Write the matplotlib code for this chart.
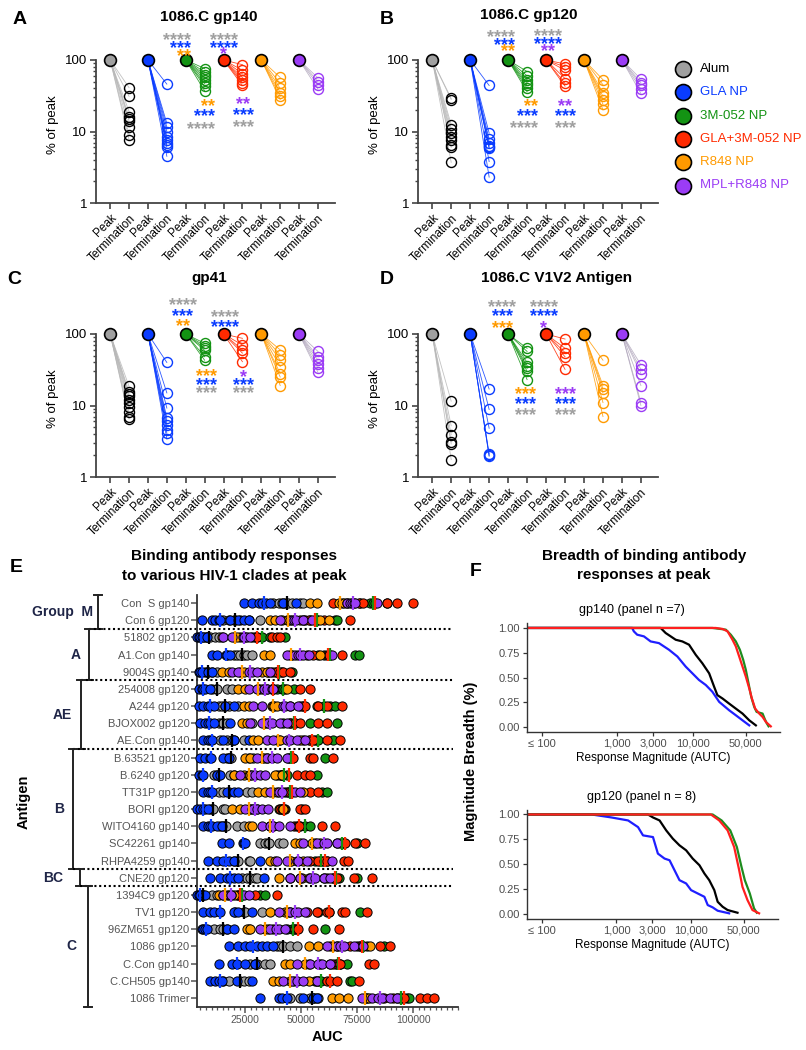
import numpy as np
import matplotlib.pyplot as plt
import matplotlib.transforms as mtransforms
from matplotlib.ticker import FixedLocator, MultipleLocator, NullLocator, LogLocator, NullFormatter

plt.rcParams['font.family'] = ['Liberation Sans', 'DejaVu Sans']

W, H = 806, 1050

# ---------------- data ----------------
groups = ['Alum', 'GLA NP', '3M-052 NP', 'GLA+3M-052 NP', 'R848 NP', 'MPL+R848 NP']
group_colors = ['#a0a0a0', '#0a3cff', '#139313', '#ff2a00', '#ff9a00', '#9b3cf5']
line_colors = ['#b8b8b8', '#0a3cff', '#139313', '#ff2a00', '#ff9a00', '#b4aabf']
term_edges = ['black', '#0a3cff', '#139313', '#ff2a00', '#ff9a00', '#9b3cf5']
xcats = ['Peak', 'Termination'] * 6

# % of peak at termination, per adjuvant group (Alum, GLA, 3M, GLA+3M, R848, MPL+R848)
term_A = [[41, 31, 19, 16, 15, 14, 11.5, 9, 7.7],
          [46, 13, 11.5, 10, 8.5, 7.5, 7, 6.5, 6, 4.5],
          [76, 68, 62, 57, 52, 47, 43, 37],
          [86, 72, 64, 57, 52, 48, 44],
          [57, 47, 40, 35, 31, 28],
          [56, 50, 45, 39]]
term_B = [[29, 28, 12.5, 11, 9.5, 8.5, 7.5, 6.5, 6, 3.7],
          [44, 9.5, 7.8, 7, 6.3, 6, 5.8, 3.8, 2.3],
          [69, 60, 53, 48, 44, 40, 36],
          [88, 80, 72, 55, 47, 43],
          [53, 45, 35, 31, 28, 24, 20],
          [54, 48, 44, 39, 34]]
term_C = [[18.5, 15.5, 14.5, 13.5, 12, 11, 9.5, 8, 7, 6.5],
          [40, 15, 9.2, 6.7, 6, 5.3, 4.6, 4.1, 3.4],
          [74, 68, 63, 59, 48, 43],
          [87, 70, 60, 54, 41],
          [60, 51, 43, 35, 28, 25, 19],
          [57, 48, 43, 38, 33, 29]]
term_D = [[11.5, 5.2, 3.9, 3.1, 2.9, 1.75],
          [17, 8.8, 4.8, 2.1, 2.0, 1.95],
          [63, 57, 40, 36, 33, 30, 23],
          [85, 63, 55, 48, 32],
          [43, 19, 17, 15, 11, 7],
          [37, 32, 28, 19, 11, 10]]

# significance stars: (x category, alignment, [(stars, colour index, y)])
stars_A = [(4.29, 'right', [('****', 0, 229), ('***', 1, 175), ('**', 4, 135)]),
           (6.0, 'center', [('****', 0, 229), ('****', 1, 175), ('*', 5, 142)]),
           (5.56, 'right', [('**', 4, 26.7), ('***', 1, 19.4), ('****', 0, 13)]),
           (7.04, 'center', [('**', 5, 28.5), ('***', 1, 20), ('***', 0, 13.7)])]
stars_B = [(4.34, 'right', [('****', 0, 249), ('***', 1, 195), ('**', 4, 157)]),
           (6.08, 'center', [('****', 0, 257), ('****', 1, 201), ('**', 5, 157)]),
           (5.56, 'right', [('**', 4, 26.7), ('***', 1, 19.4), ('****', 0, 13.3)]),
           (7.0, 'center', [('**', 5, 26.7), ('***', 1, 19.4), ('***', 0, 13.3)])]
stars_C = [(3.84, 'center', [('****', 0, 303), ('***', 1, 215), ('**', 4, 153)]),
           (6.08, 'center', [('****', 0, 204), ('****', 1, 148)]),
           (5.1, 'center', [('***', 4, 30.6), ('***', 1, 23), ('***', 0, 17.6)]),
           (7.04, 'center', [('*', 5, 29.6), ('***', 1, 23), ('***', 0, 17.6)])]
stars_D = [(3.7, 'center', [('****', 0, 287), ('***', 1, 209), ('***', 4, 143)]),
           (5.87, 'center', [('****', 0, 287), ('****', 1, 209), ('*', 5, 143)]),
           (4.92, 'center', [('***', 4, 17), ('***', 1, 12.5), ('***', 0, 8.8)]),
           (7.04, 'center', [('***', 5, 17), ('***', 1, 12.5), ('***', 0, 8.8)])]

# panel E
antigens = ['Con  S gp140', 'Con 6 gp120', '51802 gp120', 'A1.Con gp140', '9004S gp140',
            '254008 gp120', 'A244 gp120', 'BJOX002 gp120', 'AE.Con gp140', 'B.63521 gp120',
            'B.6240 gp120', 'TT31P gp120', 'BORI gp120', 'WITO4160 gp140', 'SC42261 gp140',
            'RHPA4259 gp140', 'CNE20 gp120', '1394C9 gp120', 'TV1 gp120', '96ZM651 gp120',
            '1086 gp120', 'C.Con gp140', 'C.CH505 gp140', '1086 Trimer']
clades = ['Group  M', 'A', 'AE', 'B', 'BC', 'C']
clade_rows = [(0, 1), (2, 4), (5, 8), (9, 15), (16, 16), (17, 23)]

# AUC in thousands, one list per antigen row
auc_alum = [[37.6, 39.9, 41.4, 42.9, 44.3, 45.8, 49.6, 51.0], [15.3, 17.6, 19.8, 20.5, 22.8, 26.5, 31.7],
            [7.1, 7.9, 8.6, 9.4, 11.6, 13.1], [19.8, 21.3, 22.8, 24.3, 25.7, 28.0],
            [7.1, 7.9, 8.6, 10.1, 12.4], [10.1, 12.0, 12.6, 16.8, 19.0],
            [13.1, 14.6, 16.1, 17.6, 22.0], [13.1, 14.6, 15.3, 16.8, 28.0],
            [13.8, 16.8, 19.0, 19.8, 24.3], [16.8, 18.0, 18.6, 26.5, 28.7],
            [10.9, 12.4, 13.1, 18.3, 19.8], [13.1, 15.3, 18.0, 25.7, 28.0],
            [9.4, 10.1, 10.6, 15.3, 16.1], [13.8, 15.3, 16.1, 16.4, 21.3, 24.3],
            [31.7, 33.9, 35.4, 35.8, 39.9, 42.1], [19.8, 21.3, 22.0, 26.5, 27.2],
            [23.5, 25.7, 27.2, 29.5, 30.2], [5.2, 5.7, 6.4, 10.1, 12.4],
            [20.5, 24.3, 25.0, 32.4], [10.9, 13.8, 15.3, 16.8, 26.5],
            [39.1, 40.6, 42.1, 45.1, 48.1], [27.2, 29.5, 30.2, 33.9, 36.2],
            [15.3, 17.6, 22.8, 24.3, 26.5], [45.1, 49.6, 54.0, 55.5, 56.2, 57.7]]
auc_gla = [[24.3, 28.0, 31.0, 32.4, 34.4, 36.2, 42.1, 47.8], [5.7, 10.1, 11.6, 13.1, 13.8, 18.3, 22.0, 24.3, 26.5],
           [3.6, 4.2, 4.9, 5.7, 6.4, 7.9], [10.1, 12.4, 16.4, 16.8, 18.3],
           [4.2, 5.0, 5.7, 8.6, 10.1], [4.2, 5.7, 6.4, 7.1, 9.4],
           [4.2, 6.4, 8.6, 9.4, 10.9, 16.1, 19.8], [4.9, 7.1, 8.6, 9.4, 10.9, 18.3],
           [6.4, 8.6, 9.4, 10.1, 15.3, 19.8, 26.5], [4.9, 7.1, 9.4, 9.8, 15.3, 17.6],
           [4.2, 5.7, 6.4, 12.4, 13.8], [6.4, 8.6, 9.4, 10.1, 16.8, 19.8, 22.0],
           [3.7, 4.9, 6.4, 7.1, 8.6], [6.4, 8.6, 9.4, 10.1, 12.4, 14.6],
           [14.6, 17.6, 24.0, 24.6, 25.0], [8.6, 12.4, 15.3, 17.6, 19.8, 31.7],
           [9.4, 13.8, 16.8, 18.3, 19.8, 22.0, 33.2], [3.6, 4.2, 4.9, 6.4, 7.1],
           [6.4, 9.4, 10.9, 13.8, 19.8, 22.0, 28.0], [5.7, 6.4, 7.1, 7.9, 16.8, 19.8],
           [17.6, 22.0, 25.0, 27.2, 30.2, 32.4, 34.7, 37.6], [13.1, 19.0, 21.3, 25.0, 29.5],
           [9.4, 11.6, 13.1, 14.6, 21.3, 28.0], [31.7, 39.9, 41.4, 43.6, 51.0, 55.5, 57.0]]
auc_3m = [[76.3, 80.8, 82.0, 83.0, 88.2], [51.0, 54.0, 56.7, 57.0, 65.2, 65.9],
          [28.0, 30.2, 32.4, 36.2, 42.9], [57.7, 60.0, 63.0, 74.1, 75.6],
          [36.9, 39.1, 41.4, 45.8], [39.1, 41.4, 42.1, 42.9, 46.6],
          [51.0, 57.0, 60.0, 63.0, 65.2], [42.1, 45.1, 46.6, 54.0, 65.9],
          [56.2, 57.0, 57.7, 64.4], [44.3, 45.1, 45.8, 60.7],
          [39.1, 41.4, 43.6, 57.0], [42.9, 43.9, 45.1, 59.2, 61.5],
          [39.9, 41.4, 42.9, 50.3], [49.6, 51.8, 54.0],
          [65.9, 68.2, 68.5, 74.9], [56.2, 58.5, 59.5, 61.5],
          [60.0, 64.1, 66.7, 74.9], [22.0, 23.0, 23.5, 31.7, 33.9],
          [57.7, 62.2, 76.3], [43.6, 45.8, 46.6, 60.7],
          [74.9, 76.3, 79.3, 86.8], [62.9, 65.6, 67.4, 70.4],
          [56.2, 58.0, 58.8, 71.9, 72.6], [92.7, 94.0, 94.5, 97.2, 98.0]]
auc_gla3m = [[64.4, 75.6, 77.8, 88.2, 92.7, 100.1], [49.6, 51.8, 53.3, 56.2, 57.0, 60.0, 71.9],
             [22.8, 29.5, 30.0, 30.4, 36.9, 39.1, 40.6], [52.5, 55.5, 61.5, 62.2, 62.6, 68.2],
             [35.4, 38.4, 39.1, 40.6, 42.1, 45.1], [34.7, 36.9, 37.4, 37.6, 49.6, 54.0],
             [45.1, 49.6, 51.0, 51.8, 57.7, 61.5, 68.2], [45.1, 46.6, 46.9, 47.3, 49.6, 57.7, 61.5],
             [51.0, 53.3, 54.0, 55.5, 61.5, 67.4], [45.1, 45.8, 46.0, 46.4, 54.0, 55.5, 64.4],
             [40.6, 40.9, 41.4, 48.1, 51.8, 54.0], [44.3, 45.1, 45.8, 54.0, 57.7],
             [40.6, 41.4, 42.1, 42.3, 49.6, 51.8], [46.6, 48.1, 48.8, 49.2, 59.2, 65.2],
             [67.4, 68.9, 69.4, 74.1, 78.6], [54.0, 57.7, 60.0, 61.5, 68.9, 71.1],
             [55.5, 61.5, 64.4, 65.9, 73.4, 81.5], [21.3, 22.5, 22.8, 29.5, 39.1],
             [52.5, 57.0, 61.5, 62.2, 68.2, 69.6, 79.3], [47.3, 48.1, 48.4, 55.5, 66.7],
             [71.9, 76.3, 77.1, 85.3, 89.7], [64.4, 66.0, 66.7, 67.2, 80.1, 82.3],
             [57.0, 61.5, 62.9, 65.9, 75.6], [86.8, 91.2, 95.0, 95.7, 103.1, 106.1, 109.1]]
auc_r848 = [[54.0, 57.0, 66.7, 68.2, 68.9, 70.4], [36.2, 38.4, 41.4, 43.6, 44.3, 45.1, 58.5, 62.2],
            [14.6, 19.8, 21.3, 25.0], [33.2, 36.2, 45.1, 45.5, 45.8, 58.5],
            [14.6, 17.6, 22.8, 24.3, 32.4, 34.7], [22.0, 25.0, 30.8, 31.0, 32.4, 43.6],
            [24.3, 26.5, 36.9, 37.6, 38.0, 39.1], [23.5, 25.7, 33.2, 33.8, 35.4],
            [28.7, 30.9, 39.1, 40.0, 40.6, 49.6], [25.0, 27.2, 32.4, 33.2, 34.7],
            [19.8, 24.3, 26.5, 27.2, 38.4, 41.4], [30.9, 33.9, 37.6, 39.1, 51.0],
            [19.0, 22.8, 26.5, 27.2, 30.2, 42.1], [26.5, 28.0, 35.9, 36.2, 37.6],
            [47.3, 49.6, 54.8, 56.2, 58.5], [36.2, 38.4, 45.1, 45.4, 51.0],
            [39.9, 45.1, 49.6, 50.3, 53.3], [13.1, 15.3, 16.8, 19.8],
            [36.2, 42.9, 44.3, 45.1], [25.7, 27.2, 33.9, 35.4, 37.6],
            [53.3, 57.7, 62.9, 64.4, 65.9, 77.8, 80.8], [42.9, 45.1, 51.8, 53.3, 58.5],
            [37.6, 39.9, 45.1, 46.6, 53.3], [63.7, 66.7, 71.1, 78.6, 79.0, 79.3, 80.1]]
auc_mpl = [[70.4, 71.9, 72.6, 73.4, 74.1, 83.8], [40.6, 45.8, 46.9, 47.8, 51.0, 54.8],
           [15.3, 19.0, 24.0, 24.6, 25.7, 27.2], [43.6, 47.3, 48.8, 49.6, 51.0, 53.3, 63.7],
           [19.0, 22.0, 26.5, 28.0, 30.2, 36.2], [26.5, 30.2, 33.2, 34.7, 36.9, 37.6],
           [28.7, 32.4, 42.1, 42.9, 45.1, 48.8], [27.2, 32.4, 35.4, 36.9, 40.6, 43.6],
           [34.7, 37.6, 43.6, 45.1, 48.1, 51.8], [30.2, 34.7, 36.9, 39.1, 43.6],
           [22.8, 28.0, 29.5, 31.7, 33.9], [36.2, 39.9, 41.4, 47.3, 49.6],
           [25.0, 28.0, 28.7, 30.2, 32.4, 35.4], [32.4, 36.2, 37.6, 39.9, 45.1],
           [51.0, 57.0, 60.0, 61.5, 65.9], [39.1, 43.6, 48.1, 48.8, 52.5, 63.7],
           [45.1, 49.6, 54.0, 56.2, 60.0, 62.9], [15.3, 17.6, 18.6, 18.8, 24.3, 26.5],
           [39.9, 45.1, 47.3, 48.8, 51.8], [31.7, 36.2, 38.8, 39.9, 42.9],
           [61.5, 65.9, 67.4, 68.9, 73.4, 77.8], [48.1, 54.0, 57.7, 59.2, 62.9],
           [42.1, 45.8, 48.1, 51.0, 57.0], [77.1, 81.5, 84.5, 86.0, 89.7, 92.7]]
auc_groups = [auc_alum, auc_gla, auc_3m, auc_gla3m, auc_r848, auc_mpl]
median_colors = ['black', '#0a3cff', '#139313', '#ff2a00', '#ff9a00', '#9b3cf5']
e_draw_order = [0, 1, 4, 5, 2, 3]

# panel F: breadth curves (AUTC, fraction of antigens)
f_colors = ['#1f1fff', 'black', '#1e8c1e', '#ff1f1f']
gp140_x = [[1580, 1660, 1840, 2260, 2770, 3570, 4850, 6260, 8070, 9900, 12100, 14900, 18200, 22400, 30400, 37200, 45600, 56000],
           [3760, 4380, 5110, 5950, 7290, 8940, 10960, 13400, 16500, 19200, 21200, 24800, 30300, 37200, 45600, 56000, 68500],
           [18200, 27400, 31900, 37200, 42100, 46600, 50500, 54800, 59500, 65200, 70000, 84100, 89400, 95000, 101000],
           [20200, 24800, 28900, 33600, 37200, 41200, 45600, 50500, 56000, 60700, 67100, 76000, 84100, 93100, 108000]]
gp140_y = [[1.0, 0.966, 0.932, 0.915, 0.864, 0.847, 0.78, 0.712, 0.61, 0.542, 0.475, 0.424, 0.356, 0.254, 0.169, 0.119, 0.068, 0.017],
           [1.0, 0.949, 0.915, 0.881, 0.864, 0.831, 0.729, 0.644, 0.542, 0.407, 0.322, 0.288, 0.237, 0.186, 0.136, 0.068, 0.017],
           [1.0, 0.983, 0.932, 0.864, 0.78, 0.678, 0.576, 0.441, 0.305, 0.203, 0.153, 0.136, 0.085, 0.041, 0.007],
           [1.0, 0.99, 0.966, 0.881, 0.814, 0.712, 0.61, 0.508, 0.39, 0.288, 0.186, 0.136, 0.102, 0.051, 0.007]]
gp120_x = [[466, 858, 1430, 1940, 2260, 3070, 3570, 4380, 5110, 5950, 6930, 8500, 9900, 12100, 14900, 16500, 19200, 22400, 31900],
           [2630, 3070, 3760, 4610, 5650, 6930, 8500, 10400, 12800, 14900, 17300, 20200, 22400, 26100, 30400, 41200],
           [19200, 25300, 33000, 40400, 46600, 51600, 60100, 68500, 74500],
           [18200, 23500, 30400, 37200, 43400, 48000, 56000, 65200, 80000]]
gp120_y = [[1.0, 0.97, 0.94, 0.873, 0.79, 0.773, 0.607, 0.557, 0.54, 0.44, 0.34, 0.307, 0.24, 0.207, 0.173, 0.09, 0.067, 0.033, 0.007],
           [1.0, 0.97, 0.94, 0.84, 0.757, 0.69, 0.64, 0.557, 0.49, 0.407, 0.34, 0.24, 0.123, 0.073, 0.04, 0.013],
           [1.0, 0.94, 0.84, 0.673, 0.473, 0.34, 0.207, 0.057, 0.013],
           [1.0, 0.94, 0.84, 0.673, 0.44, 0.273, 0.14, 0.04, 0.007]]
f_ticks = [100, 1000, 3000, 10000, 50000]
f_ticklabels = ['\u2264 100', '1,000', '3,000', '10,000', '50,000']

# ---------------- figure ----------------
fig = plt.figure(figsize=(W / 100, H / 100), dpi=100)


def add_ax(l, t, r, b):
    return fig.add_axes([l / W, 1 - b / H, (r - l) / W, (b - t) / H])


def ftext(x, y, s, **kw):
    return fig.text(x / W, 1 - y / H, s, **kw)


STAR_FS = 13


def decay_panel(ax, term, stars):
    for i, vals in enumerate(term):
        xp, xt = 2 * i, 2 * i + 1
        for v in vals:
            ax.plot([xp, xt], [100, v], color=line_colors[i], lw=0.6, alpha=0.85, zorder=1, clip_on=False)
        ax.plot([xt] * len(vals), vals, 'o', ms=7.2, mfc='none', mec=term_edges[i], mew=1.0,
                zorder=2, clip_on=False)
        ax.plot([xp], [100], 'o', ms=8.5, mfc=group_colors[i], mec='black', mew=1.2, zorder=3, clip_on=False)
    ax.set_yscale('log')
    ax.set_ylim(1, 100)
    ax.set_xlim(-0.75, 11.9)
    ax.set_yticks([1, 10, 100])
    ax.set_yticklabels(['1', '10', '100'], fontsize=9.5)
    ax.yaxis.set_minor_locator(LogLocator(base=10, subs=np.arange(2, 10)))
    ax.yaxis.set_minor_formatter(NullFormatter())
    ax.set_xticks(range(12))
    ax.set_xticklabels(xcats, rotation=45, ha='right', rotation_mode='anchor', fontsize=8.5)
    for s in ['top', 'right']:
        ax.spines[s].set_visible(False)
    for s in ['left', 'bottom']:
        ax.spines[s].set_linewidth(1.3)
        ax.spines[s].set_color('#444444')
    ax.tick_params(which='major', length=4.5, width=1.2, color='#444444', pad=2)
    ax.tick_params(which='minor', length=2.5, width=1.0, color='#444444')
    for x, ha, rows in stars:
        for txt, ci, y in rows:
            ax.annotate(txt, (x, y), xytext=(0, -STAR_FS * 0.58), textcoords='offset points',
                        ha=ha, va='baseline', color=group_colors[ci], fontsize=STAR_FS,
                        fontweight='bold', annotation_clip=False)


panels = [((96, 60, 335, 203), term_A, stars_A, '1086.C gp140', 209, 17, 'A', (20, 20)),
          ((418, 60, 658, 203), term_B, stars_B, '1086.C gp120', 529, 15, 'B', (387, 20)),
          ((96, 334, 335, 477), term_C, stars_C, 'gp41', 209, 278, 'C', (14, 279)),
          ((418, 334, 658, 477), term_D, stars_D, '1086.C V1V2 Antigen', 557, 278, 'D', (387, 279))]
for box, term, st, title, tx, ty, letter, lxy in panels:
    ax = add_ax(*box)
    decay_panel(ax, term, st)
    ftext(tx, ty, title, fontsize=11, fontweight='bold', ha='center', va='center')
    ftext(lxy[0], lxy[1], letter, fontsize=14, fontweight='bold', ha='center', va='center')
    ftext(box[0] - 43, (box[1] + box[3]) / 2 - 7, '% of peak', rotation=90, fontsize=9.5,
          ha='center', va='center')

# legend
for i, name in enumerate(groups):
    y = 69 + 23.3 * i
    fig.add_artist(plt.Line2D([683 / W], [1 - y / H], marker='o', ms=11.5, mfc=group_colors[i], mec='black',
                              mew=1.2, transform=fig.transFigure))
    ftext(700, y, name, fontsize=9.5, color=('black' if i == 0 else group_colors[i]), ha='left', va='center')

# ---------------- panel E ----------------
E_L, E_T, E_R, E_B = 197, 595, 458, 1007
axe = add_ax(E_L, E_T, E_R, E_B)
nrow = len(antigens)
rows = np.arange(nrow)
for g in e_draw_order:
    for r in rows:
        vals = np.asarray(auc_groups[g][r]) * 1000
        axe.scatter(vals, np.full(len(vals), r), s=44, c=group_colors[g], edgecolors='black',
                    linewidths=0.7, zorder=2 + g, clip_on=False)
for g in e_draw_order:
    for r in rows:
        med = np.median(np.asarray(auc_groups[g][r]) * 1000)
        axe.vlines(med, r - 0.4, r + 0.4, color=median_colors[g], lw=1.6, zorder=12)
axe.set_xlim(3500, 120000)
axe.set_ylim(nrow - 0.47, -0.47)
axe.set_yticks(rows)
axe.set_yticklabels(antigens, fontsize=8, color='#555555')
axe.set_xticks([25000, 50000, 75000, 100000])
axe.set_xticklabels(['25000', '50000', '75000', '100000'], fontsize=7.5, color='#555555')
axe.xaxis.set_minor_locator(MultipleLocator(2500))
for s in ['top', 'right']:
    axe.spines[s].set_visible(False)
for s in ['left', 'bottom']:
    axe.spines[s].set_linewidth(1.3)
    axe.spines[s].set_color('#333333')
axe.tick_params(which='major', length=4, width=1.1, color='#555555', pad=1.5)
axe.tick_params(which='minor', length=2.5, width=0.9, color='#555555')
axe.tick_params(axis='y', which='minor', left=False)
axe.set_xlabel('AUC', fontsize=10.5, fontweight='bold', labelpad=4)

trans = mtransforms.blended_transform_factory(axe.transAxes, axe.transData)
bracket_px = [98, 89, 81, 73, 80, 88]
label_px = [63, 76, 62, 59, 53, 71]
E_WID = E_R - E_L
for k, (r0, r1) in enumerate(clade_rows):
    xa = (bracket_px[k] - E_L) / E_WID
    top = r0 - 0.5 if k > 0 else -0.47
    bot = r1 + 0.5 if k < len(clade_rows) - 1 else nrow - 0.47
    cap = 4 / E_WID
    axe.plot([xa, xa], [top, bot], color='#222222', lw=1.4, transform=trans, clip_on=False)
    for yy in (top, bot):
        axe.plot([xa - cap, xa + cap], [yy, yy], color='#222222', lw=1.4, transform=trans, clip_on=False)
    axe.text((label_px[k] - E_L) / E_WID, (r0 + r1) / 2, clades[k], transform=trans, ha='center',
             va='center', fontsize=10, fontweight='bold', color='#1f2547')
    if k < len(clade_rows) - 1:
        xs = (min(bracket_px[k], bracket_px[k + 1]) - E_L) / E_WID
        axe.plot([xs, 0.98], [r1 + 0.5, r1 + 0.5], color='black', lw=1.5, ls=(0, (1, 1.3)),
                 transform=trans, clip_on=False)

ftext(24, 802, 'Antigen', rotation=90, fontsize=10.5, fontweight='bold', ha='center', va='center')
ftext(234, 556, 'Binding antibody responses', fontsize=11, fontweight='bold', ha='center', va='center')
ftext(234, 576, 'to various HIV-1 clades at peak', fontsize=11, fontweight='bold', ha='center', va='center')
ftext(16, 567, 'E', fontsize=14, fontweight='bold', ha='center', va='center')

# ---------------- panel F ----------------
ftext(476, 572, 'F', fontsize=14, fontweight='bold', ha='center', va='center')
ftext(644, 556, 'Breadth of binding antibody', fontsize=11, fontweight='bold', ha='center', va='center')
ftext(644, 575, 'responses at peak', fontsize=11, fontweight='bold', ha='center', va='center')
ftext(471, 761, 'Magnitude Breadth (%)', rotation=90, fontsize=10.5, fontweight='bold', ha='center', va='center')

XLO, XHI = 64, 143000
f_specs = [((527, 623, 780, 732), gp140_x, gp140_y, 'gp140 (panel n =7)', 632, 610),
           ((527, 809.5, 778, 919), gp120_x, gp120_y, 'gp120 (panel n = 8)', 642, 797)]
for box, xs_all, ys_all, title, tx, ty in f_specs:
    axf = add_ax(*box)
    for c, xs, ys in zip(f_colors, xs_all, ys_all):
        axf.plot(np.concatenate(([XLO], xs)), np.concatenate(([1.0], ys)), color=c, lw=1.6)
    axf.set_xscale('log')
    axf.set_xlim(XLO, XHI)
    axf.set_ylim(-0.05, 1.05)
    axf.xaxis.set_major_locator(FixedLocator(f_ticks))
    axf.set_xticklabels(f_ticklabels, fontsize=8, color='#4d4d4d')
    axf.xaxis.set_minor_locator(NullLocator())
    axf.set_yticks([0, 0.25, 0.5, 0.75, 1.0])
    axf.set_yticklabels(['0.00', '0.25', '0.50', '0.75', '1.00'], fontsize=8, color='#4d4d4d')
    for s in ['top', 'right']:
        axf.spines[s].set_visible(False)
    for s in ['left', 'bottom']:
        axf.spines[s].set_linewidth(1.0)
        axf.spines[s].set_color('#333333')
    axf.tick_params(length=3, width=0.9, color='#333333', pad=2)
    axf.set_xlabel('Response Magnitude (AUTC)', fontsize=8.5, labelpad=2)
    ftext(tx, ty, title, fontsize=9, ha='center', va='center')

fig.savefig('out.png', dpi=100)
